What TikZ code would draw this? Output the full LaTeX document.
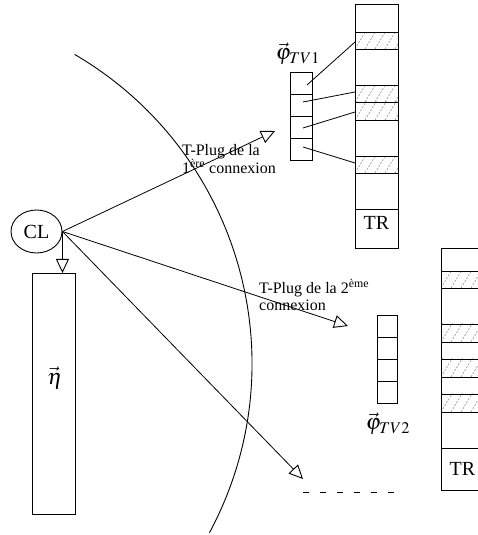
\documentclass[tikz,border=0pt]{standalone}
\usepackage{mathptmx}
\usepackage{fontspec}
\setmainfont{Liberation Serif}
\usetikzlibrary{arrows.meta,shapes.geometric}
\newcommand\hatchcell[4]{%
  \begin{scope}
    \clip (#1,#2) rectangle (#3,#4);
    \foreach \k in {-30,-20,...,50} \draw[hatchline] (#1+\k,#2) -- ++(12,20);
  \end{scope}}
\begin{document}
\begin{tikzpicture}[x=1pt,y=1pt,
  lw/.style={line width=0.9pt},
  box/.style={draw, line width=0.9pt, inner sep=0pt, outer sep=0pt},
  tarrow/.style={line width=0.8pt, -{Triangle[open,length=14pt,width=13pt,line width=0.9pt]}},
  thin/.style={line width=0.8pt},
  hatchline/.style={draw=gray!85, line width=0.6pt, dash pattern=on 2pt off 1.5pt},
  txt/.style={font=\fontsize{16}{17}\selectfont, inner sep=0pt, align=left},
  big/.style={font=\fontsize{20}{24}\selectfont, inner sep=0pt},
  mathlab/.style={font=\fontsize{22}{26}\selectfont, inner sep=0pt}]
\useasboundingbox (0,0) rectangle (477,535);

% big arc
\draw[lw] ([shift={(59.7:358)}]-106,171.5) arc[start angle=59.7, end angle=-28.2, radius=358];

% CL and eta
\node[ellipse, draw, lw, minimum width=51pt, minimum height=43pt, inner sep=0pt, big] (CL) at (36.5,303.5) {CL};
\node[box, minimum width=43pt, minimum height=241pt] (eta) at (53.5,141.5) {};
\node[mathlab] (etalabel) at (55,157) {$\vec{\eta}$};
\draw[tarrow] (CL.east) -- (CL.east |- eta.north);

% arrows
\coordinate (t1) at (275,404);
\coordinate (t2) at (348,209);
\coordinate (t3) at (303,56);
\draw[tarrow] (CL.east) -- (t1);
\draw[tarrow] (CL.east) -- (t2);
\draw[tarrow] (CL.east) -- (t3);

% dashed
\coordinate (d1) at (303,43);
\coordinate (d2) at (394,43);
\draw[lw, dash pattern=on 6pt off 11pt] (d1) -- (d2);

% TR1 column
\hatchcell{355}{486}{398}{503}
\hatchcell{355}{433}{398}{450}
\hatchcell{355}{415}{398}{433}
\hatchcell{355}{362}{398}{379}
\node[box, minimum width=43pt, minimum height=244pt] (TRa) at (376.5,409) {};
\foreach \yy in {503,486,450,433,415,379,362,326}
  \draw[lw] (TRa.west |- 0,\yy) -- (TRa.east |- 0,\yy);
\node[big, anchor=base] (tr1text) at (376.5,305) {TR};

% TR2 column
\hatchcell{441}{247}{484}{264}
\hatchcell{441}{193}{484}{211}
\hatchcell{441}{158}{484}{176}
\hatchcell{441}{123}{484}{141}
\node[box, minimum width=43pt, minimum height=242pt] (TRb) at (462.5,166) {};
\foreach \yy in {264,247,211,193,176,158,141,123,87}
  \draw[lw] (TRb.west |- 0,\yy) -- (TRb.east |- 0,\yy);
\node[big, anchor=base] (tr2text) at (462.5,59) {TR};

% phi TV1 cells
\node[box, minimum width=22pt, minimum height=22pt] (pa1) at (301,452) {};
\node[box, minimum width=22pt, minimum height=22pt] (pa2) at (301,430) {};
\node[box, minimum width=22pt, minimum height=22pt] (pa3) at (301,408) {};
\node[box, minimum width=22pt, minimum height=22pt] (pa4) at (301,386) {};
\node[mathlab] (phi1) at (298,481) {$\vec{\varphi}_{TV1}$};

% phi TV2 cells
\node[box, minimum width=20pt, minimum height=22pt] (pb1) at (387,209) {};
\node[box, minimum width=20pt, minimum height=22pt] (pb2) at (387,187) {};
\node[box, minimum width=20pt, minimum height=22pt] (pb3) at (387,165) {};
\node[box, minimum width=20pt, minimum height=22pt] (pb4) at (387,143) {};
\node[mathlab] (phi2) at (388,111) {$\vec{\varphi}_{TV2}$};

% links phi TV1 -> TR1
\coordinate (s1) at (307,450); \coordinate (e1) at (TRa.west |- 0,493);
\coordinate (s2) at (303,433); \coordinate (e2) at (TRa.west |- 0,443);
\coordinate (s3) at (303,407); \coordinate (e3) at (TRa.west |- 0,423);
\coordinate (s4) at (303,388); \coordinate (e4) at (TRa.west |- 0,372);
\draw[thin] (s1) -- (e1);
\draw[thin] (s2) -- (e2);
\draw[thin] (s3) -- (e3);
\draw[thin] (s4) -- (e4);

% labels
\node[txt, anchor=north west] (lab1) at (182,391) {T-Plug de la\\1\textsuperscript{ère} connexion};
\node[txt, anchor=north west] (lab2) at (259,256) {T-Plug de la 2\textsuperscript{ème}\\connexion};
\end{tikzpicture}
\end{document}
